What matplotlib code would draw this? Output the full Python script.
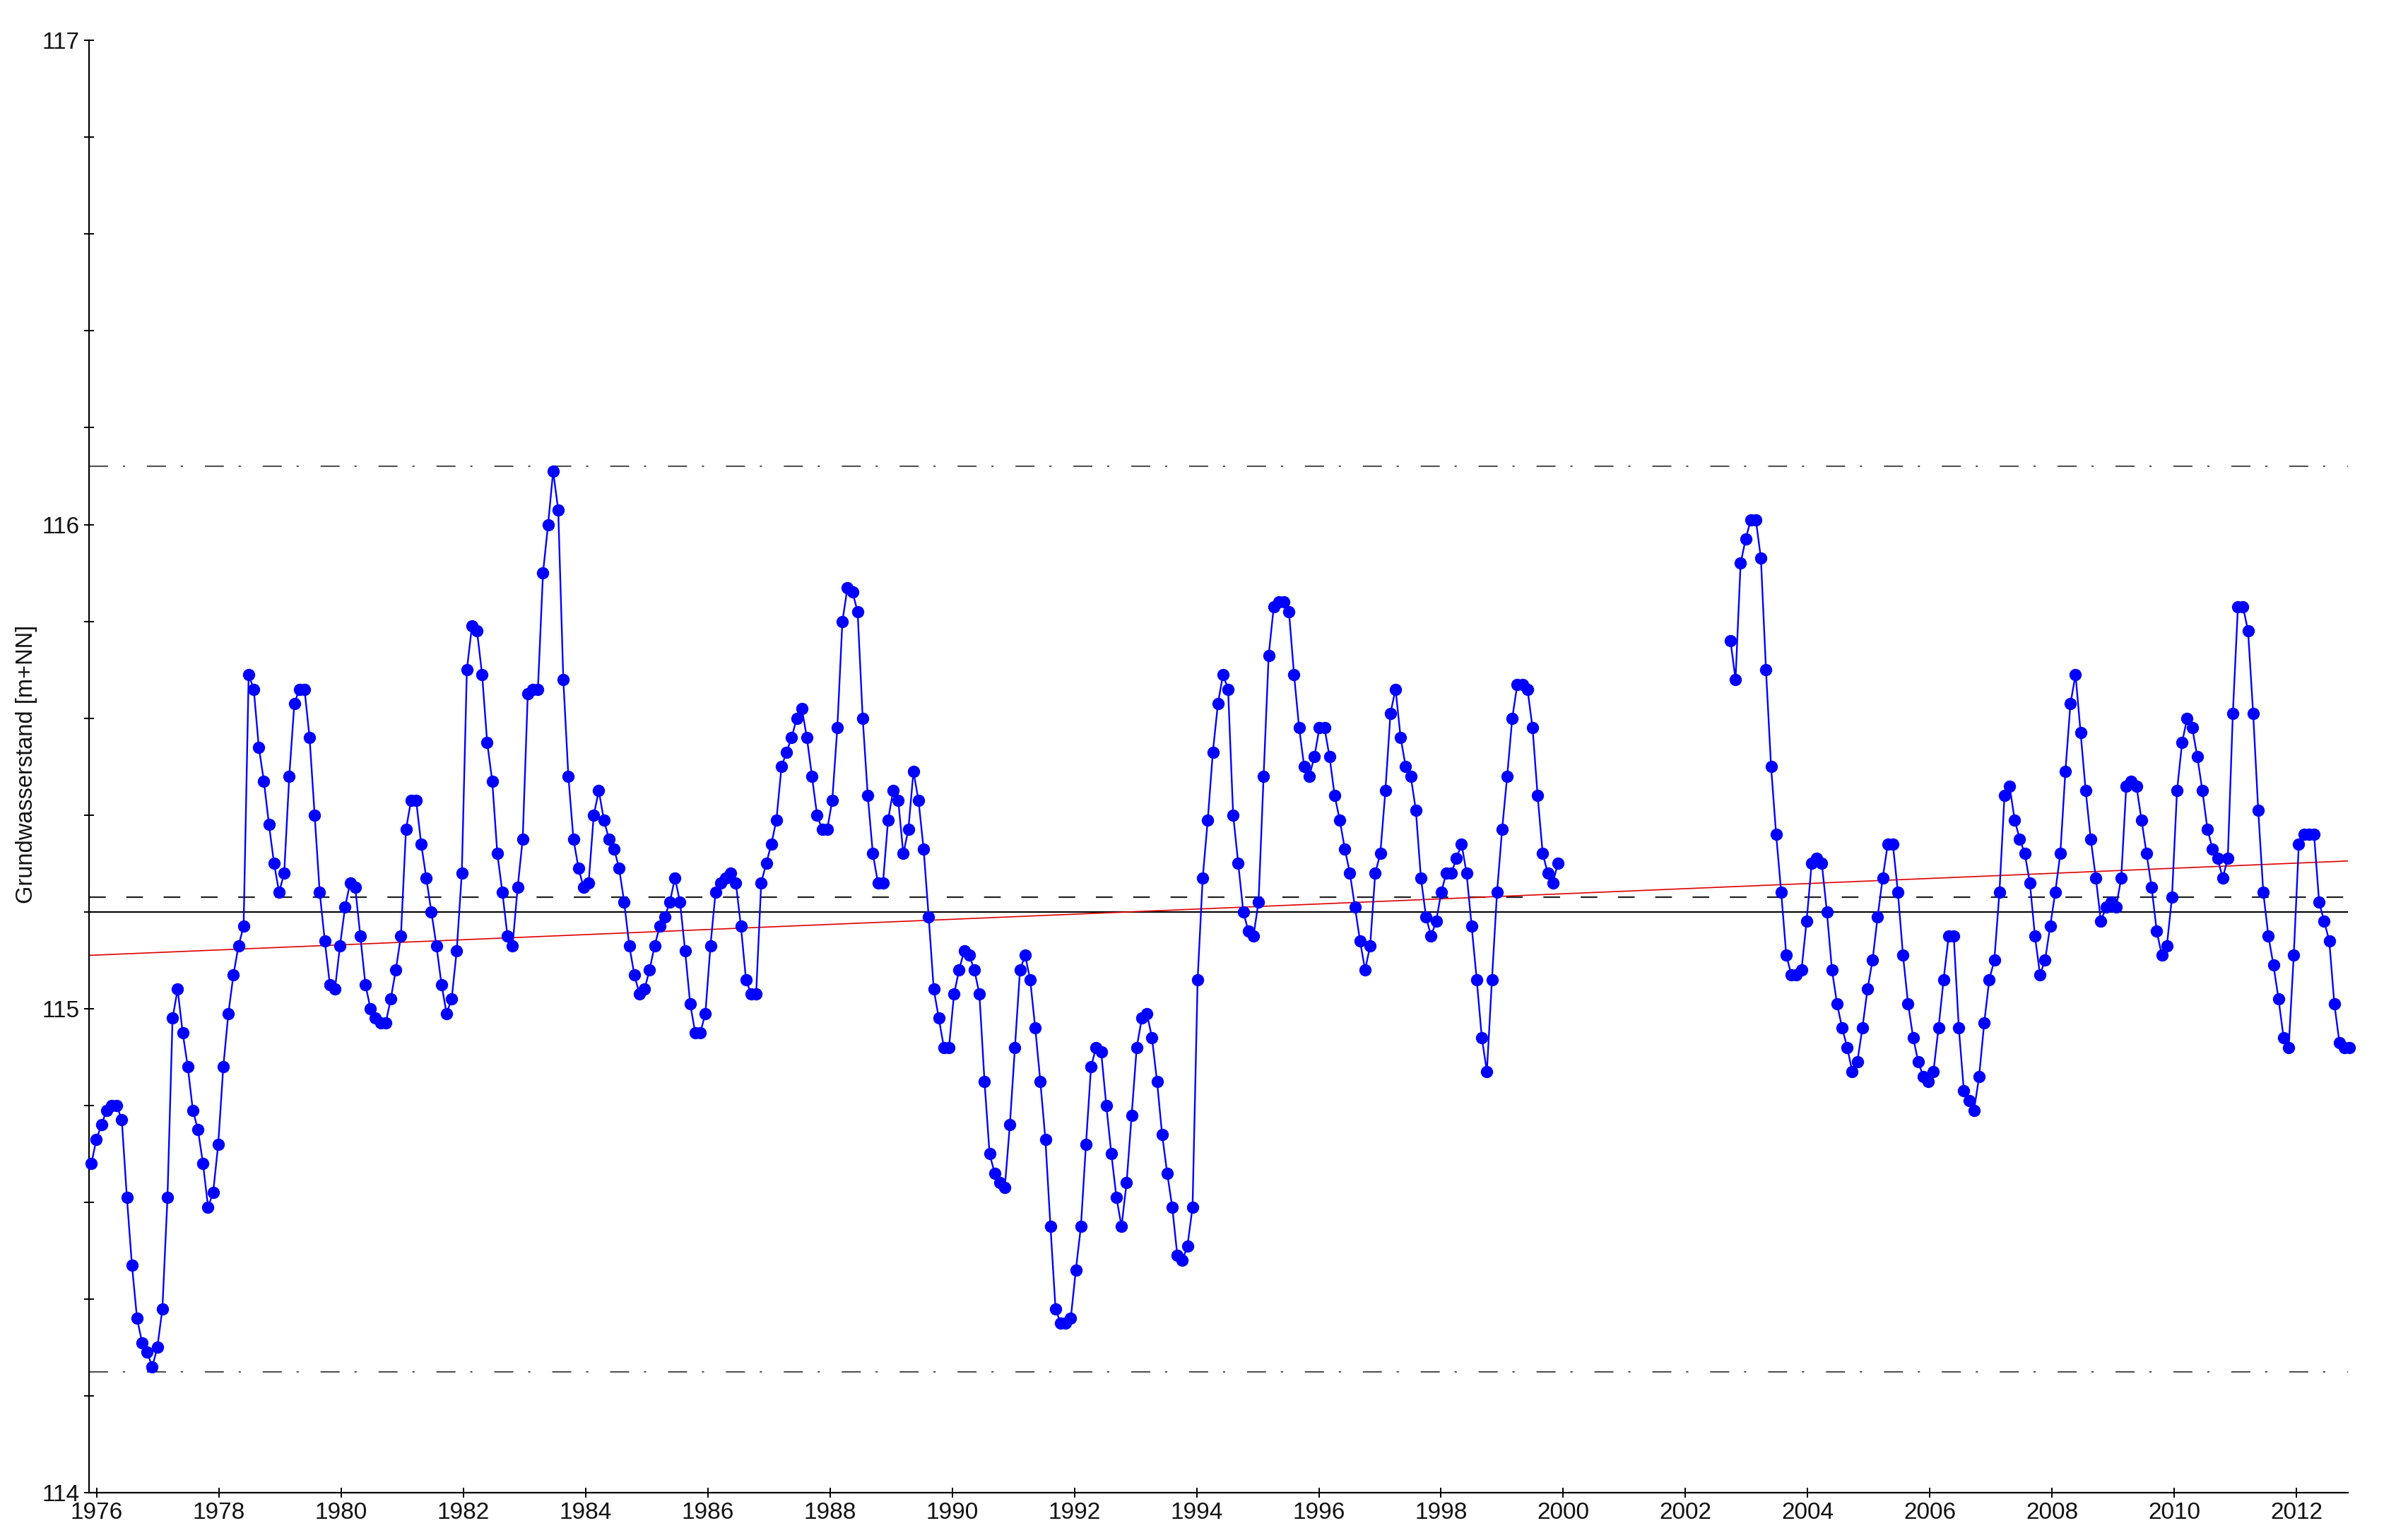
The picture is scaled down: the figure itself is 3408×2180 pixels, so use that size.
import numpy as np
import matplotlib
matplotlib.use("Agg")
import matplotlib.pyplot as plt
from matplotlib.ticker import MultipleLocator, FixedLocator

plt.rcParams['font.family'] = ['Liberation Sans', 'DejaVu Sans']
plt.rcParams['lines.scale_dashes'] = False

nan = np.nan

# ---- monthly groundwater levels [m+NN] ----
y1975 = [114.68, 114.73]
y1976 = [114.76, 114.79, 114.80, 114.80, 114.77, 114.61, 114.47, 114.36, 114.31, 114.29, 114.26, 114.30]
y1977 = [114.38, 114.61, 114.98, 115.04, 114.95, 114.88, 114.79, 114.75, 114.68, 114.59, 114.62, 114.72]
y1978 = [114.88, 114.99, 115.07, 115.13, 115.17, 115.69, 115.66, 115.54, 115.47, 115.38, 115.30, 115.24]
y1979 = [115.28, 115.48, 115.63, 115.66, 115.66, 115.56, 115.40, 115.24, 115.14, 115.05, 115.04, 115.13]
y1980 = [115.21, 115.26, 115.25, 115.15, 115.05, 115.00, 114.98, 114.97, 114.97, 115.02, 115.08, 115.15]
y1981 = [115.37, 115.43, 115.43, 115.34, 115.27, 115.20, 115.13, 115.05, 114.99, 115.02, 115.12, 115.28]
y1982 = [115.70, 115.79, 115.78, 115.69, 115.55, 115.47, 115.32, 115.24, 115.15, 115.13, 115.25, 115.35]
y1983 = [115.65, 115.66, 115.66, 115.90, 116.00, 116.11, 116.03, 115.68, 115.48, 115.35, 115.29, 115.25]
y1984 = [115.26, 115.40, 115.45, 115.39, 115.35, 115.33, 115.29, 115.22, 115.13, 115.07, 115.03, 115.04]
y1985 = [115.08, 115.13, 115.17, 115.19, 115.22, 115.27, 115.22, 115.12, 115.01, 114.95, 114.95, 114.99]
y1986 = [115.13, 115.24, 115.26, 115.27, 115.28, 115.26, 115.17, 115.06, 115.03, 115.03, 115.26, 115.30]
y1987 = [115.34, 115.39, 115.50, 115.53, 115.56, 115.60, 115.62, 115.56, 115.48, 115.40, 115.37, 115.37]
y1988 = [115.43, 115.58, 115.80, 115.87, 115.86, 115.82, 115.60, 115.44, 115.32, 115.26, 115.26, 115.39]
y1989 = [115.45, 115.43, 115.32, 115.37, 115.49, 115.43, 115.33, 115.19, 115.04, 114.98, 114.92, 114.92]
y1990 = [115.03, 115.08, 115.12, 115.11, 115.08, 115.03, 114.85, 114.70, 114.66, 114.64, 114.63, 114.76]
y1991 = [114.92, 115.08, 115.11, 115.06, 114.96, 114.85, 114.73, 114.55, 114.38, 114.35, 114.35, 114.36]
y1992 = [114.46, 114.55, 114.72, 114.88, 114.92, 114.91, 114.80, 114.70, 114.61, 114.55, 114.64, 114.78]
y1993 = [114.92, 114.98, 114.99, 114.94, 114.85, 114.74, 114.66, 114.59, 114.49, 114.48, 114.51, 114.59]
y1994 = [115.06, 115.27, 115.39, 115.53, 115.63, 115.69, 115.66, 115.40, 115.30, 115.20, 115.16, 115.15]
y1995 = [115.22, 115.48, 115.73, 115.83, 115.84, 115.84, 115.82, 115.69, 115.58, 115.50, 115.48, 115.52]
y1996 = [115.58, 115.58, 115.52, 115.44, 115.39, 115.33, 115.28, 115.21, 115.14, 115.08, 115.13, 115.28]
y1997 = [115.32, 115.45, 115.61, 115.66, 115.56, 115.50, 115.48, 115.41, 115.27, 115.19, 115.15, 115.18]
y1998 = [115.24, 115.28, 115.28, 115.31, 115.34, 115.28, 115.17, 115.06, 114.94, 114.87, 115.06, 115.24]
y1999 = [115.37, 115.48, 115.60, 115.67, 115.67, 115.66, 115.58, 115.44, 115.32, 115.28, 115.26, 115.30]
y2000 = [nan] * 12
y2001 = [nan] * 12
y2002 = [nan] * 9 + [115.76, 115.68, 115.92]
y2003 = [115.97, 116.01, 116.01, 115.93, 115.70, 115.50, 115.36, 115.24, 115.11, 115.07, 115.07, 115.08]
y2004 = [115.18, 115.30, 115.31, 115.30, 115.20, 115.08, 115.01, 114.96, 114.92, 114.87, 114.89, 114.96]
y2005 = [115.04, 115.10, 115.19, 115.27, 115.34, 115.34, 115.24, 115.11, 115.01, 114.94, 114.89, 114.86]
y2006 = [114.85, 114.87, 114.96, 115.06, 115.15, 115.15, 114.96, 114.83, 114.81, 114.79, 114.86, 114.97]
y2007 = [115.06, 115.10, 115.24, 115.44, 115.46, 115.39, 115.35, 115.32, 115.26, 115.15, 115.07, 115.10]
y2008 = [115.17, 115.24, 115.32, 115.49, 115.63, 115.69, 115.57, 115.45, 115.35, 115.27, 115.18, 115.21]
y2009 = [115.22, 115.21, 115.27, 115.46, 115.47, 115.46, 115.39, 115.32, 115.25, 115.16, 115.11, 115.13]
y2010 = [115.23, 115.45, 115.55, 115.60, 115.58, 115.52, 115.45, 115.37, 115.33, 115.31, 115.27, 115.31]
y2011 = [115.61, 115.83, 115.83, 115.78, 115.61, 115.41, 115.24, 115.15, 115.09, 115.02, 114.94, 114.92]
y2012 = [115.11, 115.34, 115.36, 115.36, 115.36, 115.22, 115.18, 115.14, 115.01, 114.93, 114.92, 114.92]

yearly = [y1975, y1976, y1977, y1978, y1979, y1980, y1981, y1982, y1983, y1984,
          y1985, y1986, y1987, y1988, y1989, y1990, y1991, y1992, y1993, y1994,
          y1995, y1996, y1997, y1998, y1999, y2000, y2001, y2002, y2003, y2004,
          y2005, y2006, y2007, y2008, y2009, y2010, y2011, y2012]
levels = np.array([v for yr in yearly for v in yr], dtype=float)

# first / last observation (decimal years)
first_obs = 1975.91
last_obs = 2012.87
t = np.linspace(first_obs, last_obs, len(levels))

# statistics lines
max_level = 116.12
min_level = 114.25
mean_level = 115.23
median_level = 115.20
trend_start = 115.11
trend_end = 115.305

x_range = (1975.873, 2012.845)
y_range = (114.0, 117.0)
x_ticks = list(range(1976, 2013, 2))
y_ticks = [114, 115, 116, 117]
y_label = "Grundwasserstand [m+NN]"

# ---- figure ----
fig = plt.figure(figsize=(34.08, 21.80), dpi=100)
ax = fig.add_axes([0.0370, 0.03073, 0.9751 - 0.0370, 0.97372 - 0.03073])
ax.set_xlim(*x_range)
ax.set_ylim(*y_range)

dashdot = (0, (19.4, 15.1, 2.2, 22.3))
ax.axhline(max_level, color='#505050', lw=1.5, linestyle=dashdot, zorder=1)
ax.axhline(min_level, color='#505050', lw=1.5, linestyle=dashdot, zorder=1)
ax.axhline(mean_level, color='#202020', lw=1.6, linestyle=(0, (17, 21)), zorder=1)
ax.axhline(median_level, color='black', lw=1.5, zorder=1)
ax.plot(list(x_range), [trend_start, trend_end], color='#e00000', lw=1.2, zorder=2)

ax.plot(t, levels, '-', color='#0000ff', lw=1.7, marker='o', ms=11.5,
        mfc='#0000ff', mec='#0000ff', zorder=3, clip_on=False)

for s in ['top', 'right']:
    ax.spines[s].set_visible(False)
for s in ['left', 'bottom']:
    ax.spines[s].set_linewidth(1.6)
    ax.spines[s].set_color('black')

ax.xaxis.set_major_locator(FixedLocator(x_ticks))
ax.set_xticklabels([str(v) for v in x_ticks])
ax.yaxis.set_major_locator(FixedLocator(y_ticks))
ax.set_yticklabels([str(v) for v in y_ticks])
ax.yaxis.set_minor_locator(MultipleLocator(0.2))

ax.tick_params(axis='both', which='both', direction='inout', length=9.4,
               width=1.4, colors='black', labelsize=24, labelcolor='#111111')
ax.tick_params(axis='x', pad=5)
ax.tick_params(axis='y', pad=5)

fig.text(0.011, 0.5037, y_label, rotation=90, ha='center', va='center',
         fontsize=23.5, color='#111111')

fig.savefig('out.png', dpi=100, facecolor='white')
